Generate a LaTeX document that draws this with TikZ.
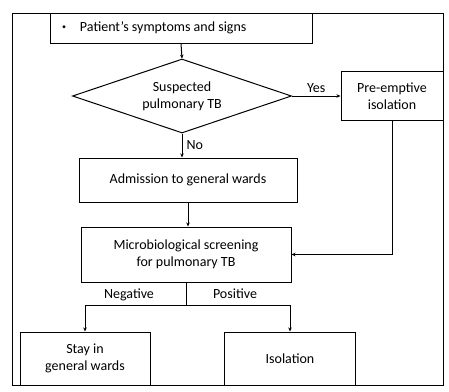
\documentclass[tikz,border=0pt]{standalone}
\usepackage{fontspec}
\setmainfont{Carlito}
\usetikzlibrary{shapes.geometric,arrows.meta}
\tikzset{
  box/.style={draw, line width=1pt, fill=white, align=center, inner sep=2pt, font=\fontsize{14}{17}\selectfont},
  dia/.style={draw, line width=1pt, diamond, aspect=3, inner sep=0pt, align=center, font=\fontsize{14}{17}\selectfont},
  conn/.style={line width=1pt, -{Stealth[length=4pt,width=3.5pt]}},
  lbl/.style={font=\fontsize{14}{17}\selectfont, inner sep=1pt}
}
\begin{document}
\begin{tikzpicture}[x=1pt,y=-1pt]
\useasboundingbox (0,0) rectangle (449,391);
\draw[line width=1pt] (12,13) rectangle (443,385);
\node[box, minimum width=262pt, minimum height=30pt, anchor=center] (top) at (181,28) {\makebox[250pt][l]{\hspace{6pt}\raisebox{2pt}{\fontsize{8}{8}\selectfont\textbullet}\hspace{14pt}Patient’s symptoms and signs}};
\node[dia, minimum width=219pt, minimum height=74pt] (dia) at (182,96) {Suspected\\pulmonary TB};
\node[box, minimum width=102pt, minimum height=49pt] (pre) at (392,96) {Pre-emptive\\isolation};
\node[box, minimum width=218pt, minimum height=44pt] (adm) at (188,180) {Admission to general wards};
\node[box, minimum width=210pt, minimum height=55pt] (mic) at (186,254.5) {Microbiological screening\\for pulmonary TB};
\node[box, minimum width=130pt, minimum height=53pt] (stay) at (85,358.5) {Stay in\\general wards};
\node[box, minimum width=131pt, minimum height=53pt] (iso) at (290,358.5) {Isolation};
\coordinate (split) at (186,305);
\draw[conn] (top.south) -- (dia.north);
\draw[conn] (dia.east) -- (pre.west) node[lbl, midway, above=2pt] {Yes};
\draw[conn] (dia.south) -- (dia.south |- adm.north) node[lbl, midway, right=3pt] {No};
\draw[conn] (adm.south) -- (adm.south |- mic.north);
\draw[conn] (pre.south) |- (mic.east);
\draw[line width=1pt] (mic.south) -- (split);
\draw[conn] (split) -| (stay.north);
\draw[conn] (split) -| (iso.north);
\node[lbl] (neg) at (129,295) {Negative};
\node[lbl] (pos) at (235,294) {Positive};
\end{tikzpicture}
\end{document}
